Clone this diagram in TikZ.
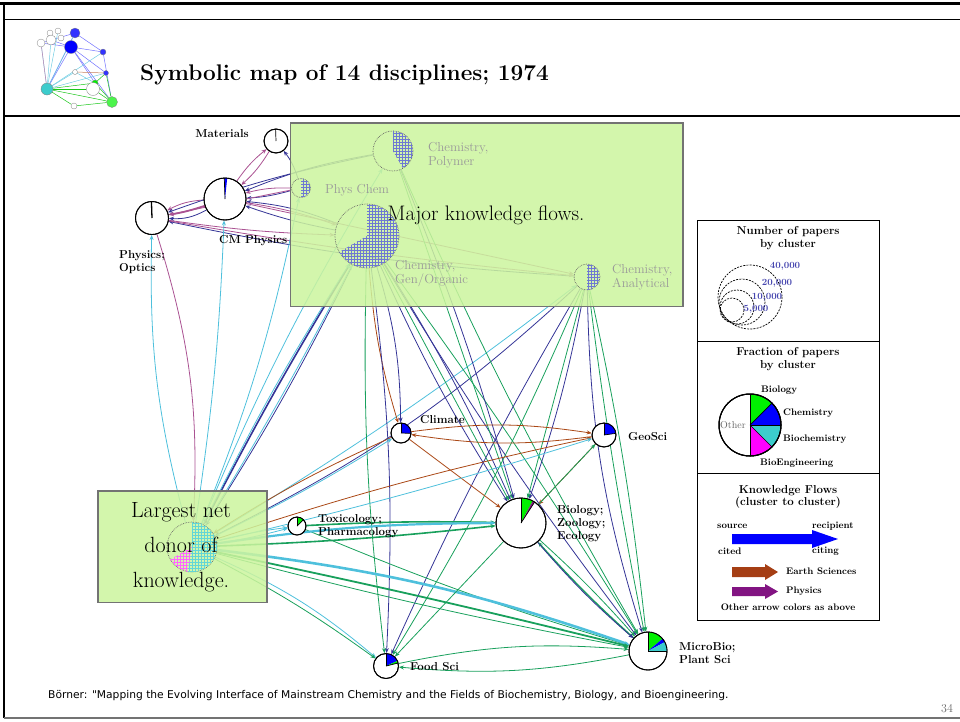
\documentclass[tikz,border=0pt]{standalone}
\usepackage{fontspec}
\newfontfamily\footfont{DejaVu Sans}
\usetikzlibrary{arrows.meta,patterns}

\definecolor{navyE}{RGB}{52,52,150}
\definecolor{cyanE}{RGB}{78,192,220}
\definecolor{greenE}{RGB}{24,160,92}
\definecolor{brownE}{RGB}{170,72,22}
\definecolor{purpE}{RGB}{170,82,146}
\definecolor{boxgreen}{RGB}{204,244,158}
\definecolor{pieblue}{RGB}{0,0,255}
\definecolor{piegreen}{RGB}{0,240,0}
\definecolor{piecyan}{RGB}{60,204,204}
\definecolor{piemag}{RGB}{255,0,255}
\definecolor{numblue}{RGB}{70,70,175}
\definecolor{legbrown}{RGB}{165,62,20}
\definecolor{legpurple}{RGB}{130,20,130}
\definecolor{hatchtone}{RGB}{110,120,210}

\pgfdeclarelayer{edgelayer}
\pgfdeclarelayer{boxlayer}
\pgfdeclarelayer{toplayer}
\pgfsetlayers{edgelayer,main,boxlayer,toplayer}

\tikzset{
  flow/.style={line width=0.8pt,-{Stealth[length=5pt,width=4pt]}},
  nv/.style={flow,draw=navyE},
  cy/.style={flow,draw=cyanE},
  gr/.style={flow,draw=greenE},
  br/.style={flow,draw=brownE},
  pu/.style={flow,draw=purpE},
  disc/.style={circle,draw=black,line width=0.9pt,fill=white,inner sep=0pt},
  ghost/.style={circle,draw=black!60,densely dotted,line width=0.7pt,inner sep=0pt},
  hatchblue/.style={pattern=grid,pattern color=hatchtone},
  hatchcyan/.style={pattern=grid,pattern color=piecyan!80},
  hatchmag/.style={pattern=grid,pattern color=piemag!60},
  nlab/.style={font=\bfseries\fontsize{11.5}{13}\selectfont,align=left,inner sep=0pt},
  glab/.style={font=\fontsize{13}{14}\selectfont,text=black!40,align=left,inner sep=0pt},
  legtitle/.style={font=\bfseries\fontsize{11.5}{12.5}\selectfont,align=center,inner sep=0pt},
  leg/.style={font=\bfseries\fontsize{9.5}{10}\selectfont,inner sep=0pt},
  greenbox/.style={draw=black!55,line width=1.3pt,fill=boxgreen,fill opacity=0.86},
  boxtext/.style={font=\fontsize{21}{35}\selectfont,align=center,inner sep=0pt},
}

% wedge of a pie: centre, radius, start and end angle (measured as seen on the page)
\newcommand\piepart[5]{%
  \fill[#5] (#1) -- ++({-(#3)}:#2) arc[start angle={-(#3)},end angle={-(#4)},radius=#2] -- cycle;}
\newcommand\pierim[2]{\draw[line width=0.9pt] (#1) circle[radius=#2];}
\newcommand\pieray[3]{\draw[line width=0.7pt] (#1) -- ++({-(#3)}:#2);}

\begin{document}
\begin{tikzpicture}[x=1pt,y=-1pt]
\useasboundingbox (0,0) rectangle (960,721);

% slide frame
\draw[line width=2.6pt] (0,3.5) -- (960,3.5);
\draw[line width=1pt] (3.5,19) -- (960,19);
\draw[line width=1.2pt] (3.5,116) -- (960,116);
\draw[line width=2pt] (3.5,2.5) -- (3.5,718);
\draw[line width=1.4pt,black!55] (3.5,718) -- (960,718);

% small overview map
\begin{scope}[every node/.style={circle,draw=black!50,line width=0.3pt,fill=white,inner sep=0pt}]
  \node[minimum size=6pt] (t1) at (50,33) {};
  \node[minimum size=6pt] (t2) at (58,31) {};
  \node[minimum size=8pt] (t3) at (41,43) {};
  \node[minimum size=10pt] (t4) at (51,40) {};
  \node[minimum size=6pt] (t5) at (61,38) {};
  \node[minimum size=10pt,fill=pieblue!80] (t6) at (75,33) {};
  \node[minimum size=13pt,fill=pieblue] (t7) at (71,47) {};
  \node[minimum size=6pt,fill=pieblue!80] (t8) at (103,52) {};
  \node[minimum size=5pt,fill=pieblue!80] (t9) at (106,73) {};
  \node[minimum size=5pt] (t10) at (75,72) {};
  \node[minimum size=12pt,fill=piecyan] (t11) at (47,89) {};
  \node[minimum size=6pt,fill=piegreen] (t12) at (95,83) {};
  \node[minimum size=13pt] (t13) at (93,89) {};
  \node[minimum size=11pt,fill=piegreen!70] (t14) at (112,102) {};
  \node[minimum size=6pt] (t15) at (74,106) {};
\end{scope}
\begin{pgfonlayer}{edgelayer}
\begin{scope}[line width=0.5pt]
  \foreach \a/\b in {t7/t8,t7/t9,t7/t11,t6/t8,t6/t3,t7/t14,t7/t3,t6/t11,t7/t12,t8/t14,t4/t7}
    \draw[pieblue!55] (\a) -- (\b);
  \foreach \a/\b in {t11/t14,t11/t13,t11/t12,t12/t14,t13/t14,t15/t14,t11/t15,t9/t14,t12/t9}
    \draw[piegreen!80!black!90] (\a) -- (\b);
  \foreach \a/\b in {t11/t3,t11/t4,t11/t2,t11/t10,t11/t9,t11/t8,t11/t6,t10/t12}
    \draw[cyanE!80] (\a) -- (\b);
  \draw[purpE!70] (t3) -- (t11);
  \draw[brownE!70] (t10) -- (t9);
\end{scope}
\end{pgfonlayer}

% title
\node[anchor=west,inner sep=0pt,font=\bfseries\fontsize{22.6}{25}\selectfont] (title) at (140,75) {Symbolic map of 14 disciplines; 1974};

% discipline clusters
\node[disc,minimum size=24pt] (mat) at (276,141) {};
\node[disc,minimum size=42pt] (cmp) at (225,199) {};
\node[disc,minimum size=33pt] (phy) at (152,218) {};
\node[disc,minimum size=20pt] (cli) at (401,433) {};
\node[disc,minimum size=24pt] (geo) at (604,435) {};
\node[disc,minimum size=50pt] (bio) at (521,523) {};
\node[disc,minimum size=18pt] (tox) at (297,526) {};
\node[disc,minimum size=25pt] (food) at (386,666) {};
\node[disc,minimum size=38pt] (micro) at (648,651) {};

\pieray{mat.center}{12}{92}\pierim{mat.center}{12}
\piepart{cmp.center}{21}{92}{84}{pieblue}\pieray{cmp.center}{21}{92}\pierim{cmp.center}{21}
\draw[line width=1.3pt] (phy.center) -- ++(-92:16.5);\pierim{phy.center}{16.5}
\piepart{cli.center}{10}{90}{-2}{pieblue}\pieray{cli.center}{10}{90}\pieray{cli.center}{10}{-2}\pierim{cli.center}{10}
\piepart{geo.center}{12}{90}{8}{pieblue}\pieray{geo.center}{12}{90}\pieray{geo.center}{12}{8}\pierim{geo.center}{12}
\piepart{bio.center}{25}{90}{62}{piegreen}\piepart{bio.center}{25}{62}{57}{legpurple}\pieray{bio.center}{25}{90}\pieray{bio.center}{25}{57}\pierim{bio.center}{25}
\piepart{tox.center}{9}{90}{45}{piegreen}\pieray{tox.center}{9}{90}\pieray{tox.center}{9}{45}\pierim{tox.center}{9}
\piepart{food.center}{12.5}{90}{24}{pieblue}\piepart{food.center}{12.5}{24}{14}{piegreen}\pieray{food.center}{12.5}{90}\pieray{food.center}{12.5}{14}\pierim{food.center}{12.5}
\piepart{micro.center}{19}{90}{40}{piegreen}\piepart{micro.center}{19}{40}{28}{pieblue}\piepart{micro.center}{19}{28}{0}{piecyan}\pieray{micro.center}{19}{90}\pieray{micro.center}{19}{0}\pierim{micro.center}{19}

% cluster names
\node[nlab,anchor=east] (matL) at (249,134) {Materials};
\node[nlab,anchor=west] (cmpL) at (219,241) {CM Physics};
\node[nlab,anchor=west] (phyL) at (119,262) {Physics;\\Optics};
\node[nlab,anchor=west] (cliL) at (420,420) {Climate};
\node[nlab,anchor=west] (geoL) at (628,437) {GeoSci};
\node[nlab,anchor=west] (bioL) at (557,524) {Biology;\\Zoology;\\Ecology};
\node[nlab,anchor=west] (toxL) at (318,526) {Toxicology;\\Pharmacology};
\node[nlab,anchor=west] (foodL) at (410,667) {Food Sci};
\node[nlab,anchor=west] (microL) at (679,653) {MicroBio;\\Plant Sci};

% clusters seen through the highlight boxes
\begin{pgfonlayer}{toplayer}
  \node[ghost,minimum size=40pt] (pol) at (393,151) {};
  \node[ghost,minimum size=19pt] (pch) at (301,188) {};
  \node[ghost,minimum size=64pt] (gen) at (367,236) {};
  \node[ghost,minimum size=26pt] (ana) at (587,277) {};
  \node[ghost,minimum size=50pt] (don) at (192,547) {};
  \piepart{pol.center}{20}{90}{-60}{hatchblue}
  \piepart{pch.center}{9.5}{90}{-90}{hatchblue}
  \piepart{gen.center}{32}{90}{-150}{hatchblue}
  \piepart{ana.center}{13}{90}{-90}{hatchblue}
  \piepart{don.center}{25}{90}{-100}{hatchcyan}
  \piepart{don.center}{25}{-100}{-150}{hatchmag}
  \node[glab,anchor=west] (polL) at (428,155) {Chemistry,\\Polymer};
  \node[glab,anchor=west] (pchL) at (325,190) {Phys Chem};
  \node[glab,anchor=west] (genL) at (395,274) {Chemistry,\\Gen/Organic};
  \node[glab,anchor=west] (anaL) at (612,277) {Chemistry,\\Analytical};
\end{pgfonlayer}

% knowledge flows
\begin{pgfonlayer}{edgelayer}
  % physics group
  \draw[pu] (cmp) to[bend left=8] (mat);
  \draw[pu] (mat) to[bend left=8] (cmp);
  \draw[nv] (pch) to[bend right=10] (mat);
  \draw[pu,line width=1.8pt] (cmp) to[bend left=4] (phy);
  \draw[pu] (cmp) to[bend right=12] (phy);
  \draw[nv] (cmp) to[bend left=16] (phy);
  \draw[nv] (pol) to[bend right=6] (cmp);
  \draw[nv] (pch) to[bend left=6] (cmp);
  \draw[pu] (pch) to[bend right=8] (cmp);
  \draw[nv] (gen) to[bend left=4] (cmp);
  \draw[nv] (gen) to[bend right=8] (cmp);
  \draw[pu] (cmp) to[bend left=5] (gen);
  \draw[pu] (cmp) to (ana);
  \draw[nv] (ana) to[bend left=4] (phy);
  \draw[nv] (pol) to[bend right=4] (phy);
  \draw[pu] (phy) to[bend right=3] (gen);
  \draw[pu] (phy) to[bend right=2] (ana);
  \draw[pu] (pch) to (phy);
  % from and to the largest donor, upwards
  \draw[pu] (phy) to[bend left=10] (don);
  \draw[cy] (don) to[bend left=8] (phy);
  \draw[cy] (don) to[bend right=3] (cmp);
  \draw[cy] (don) to[bend right=5] (pch);
  \draw[nv,line width=1.6pt] (gen) to[bend right=2] (don);
  \draw[nv] (gen) to[bend left=3] (don);
  \draw[cy] (don) to[bend right=2] (gen);
  \draw[cy] (don) to[bend left=3] (gen);
  \draw[nv] (ana) to[bend left=8] (don);
  \draw[cy] (don) to[bend left=4] (pol);
  \draw[cy] (don) to[bend right=3] (ana);
  % chemistry downwards
  \draw[nv] (gen) to[bend left=8] (cli);
  \draw[br] (gen) to[bend right=6] (cli);
  \draw[nv] (gen) to[bend left=5] (food);
  \draw[gr] (gen) to[bend right=4] (food);
  \draw[nv] (gen) to[bend right=4] (bio);
  \draw[nv] (gen) to[bend left=4] (bio);
  \draw[gr] (gen) to (bio);
  \draw[nv] (gen) to[bend right=3] (micro);
  \draw[gr] (gen) to[bend left=2] (micro);
  \draw[gr] (pol) to (bio);
  \draw[gr] (pol) to[bend right=3] (micro);
  \draw[nv] (pol) to[bend left=3] (bio);
  \draw[nv] (ana) to[bend left=4] (bio);
  \draw[gr] (ana) to (bio);
  \draw[nv] (ana) to[bend right=8] (micro);
  \draw[gr] (ana) to[bend left=3] (micro);
  \draw[gr] (ana) to[bend right=2] (micro);
  \draw[nv] (ana) to[bend right=3] (food);
  \draw[gr] (ana) to[bend left=4] (food);
  % middle and lower clusters
  \draw[br] (geo) to[bend left=8] (cli);
  \draw[br] (cli) to[bend left=8] (geo);
  \draw[br] (cli) to (bio);
  \draw[br] (geo) to (bio);
  \draw[br] (don) to[bend left=3] (geo);
  \draw[br] (cli) to[bend right=4] (don);
  \draw[cy] (don) to[bend right=3] (cli);
  \draw[cy] (don) to[bend right=2] (geo);
  \draw[gr] (bio) to (geo);
  \draw[gr,line width=1.6pt] (tox) to[bend left=2] (bio);
  \draw[gr] (tox) to[bend right=3] (micro);
  \draw[cy] (don) to[bend left=3] (tox);
  \draw[cy] (don) to[bend right=3] (tox);
  \draw[cy,line width=2.2pt] (don) to[bend left=4] (bio);
  \draw[gr,line width=1.6pt] (don) to[bend right=2] (bio);
  \draw[cy,line width=2.6pt] (don) to[bend left=6] (micro);
  \draw[gr,line width=1.8pt] (don) to[bend left=1] (micro);
  \draw[gr] (don) to[bend right=2] (micro);
  \draw[cy] (don) to[bend left=8] (food);
  \draw[gr] (don) to[bend left=4] (food);
  \draw[gr] (bio) to[bend left=3] (micro);
  \draw[gr,line width=1.4pt] (micro) to[bend left=3] (bio);
  \draw[nv] (bio) to[bend right=4] (micro);
  \draw[gr] (bio) to (food);
  \draw[gr] (micro) to[bend left=8] (food);
  \draw[gr] (food) to[bend left=8] (micro);
\end{pgfonlayer}

% highlight boxes
\begin{pgfonlayer}{boxlayer}
  \draw[greenbox] (290.5,123) rectangle (683,306.5);
  \draw[greenbox] (98,491) rectangle (267,602.5);
\end{pgfonlayer}
\begin{pgfonlayer}{toplayer}
  \node[boxtext] (majorT) at (486,215) {Major knowledge flows.};
  \node[boxtext,font=\fontsize{22}{35}\selectfont] (donorT) at (181,547) {Largest net\\donor of\\knowledge.};
\end{pgfonlayer}

% legend panels
\draw[line width=1pt] (697,220) rectangle (879,620);
\draw[line width=1pt] (697,341) -- (879,341);
\draw[line width=1pt] (697,473) -- (879,473);

\node[legtitle] (numT) at (788,238) {Number of papers\\by cluster};
\begin{scope}[dashed,line width=0.7pt,dash pattern=on 2pt off 1.2pt]
  \draw (750,297) circle[radius=32];
  \draw (742,302) circle[radius=23];
  \draw (737,307) circle[radius=17];
  \draw (732,310) circle[radius=12];
\end{scope}
\begin{scope}[every node/.style={inner sep=0pt,text=numblue,font=\bfseries\fontsize{9.5}{10}\selectfont}]
  \node (n40) at (785,266) {40,000};
  \node (n20) at (777,283) {20,000};
  \node (n10) at (767,297) {10,000};
  \node (n5) at (756,309) {5,000};
\end{scope}

\node[legtitle] (fracT) at (788,359) {Fraction of papers\\by cluster};
\coordinate (lp) at (750,425);
\fill[white] (lp) circle[radius=31];
\piepart{lp}{31}{90}{45}{piegreen}
\piepart{lp}{31}{45}{0}{pieblue}
\piepart{lp}{31}{0}{-45}{piecyan}
\piepart{lp}{31}{-45}{-90}{piemag}
\draw[line width=0.8pt] (lp) ++(-90:31) -- ++(90:62);
\foreach \ang in {45,0,-45} \pieray{lp}{31}{\ang}
\draw[line width=1pt] (lp) circle[radius=31];
\node[inner sep=0pt,text=black!60,font=\fontsize{10}{10}\selectfont] (othL) at (733,425) {Other};
\node[leg,anchor=west] (bioK) at (761,390) {Biology};
\node[leg,anchor=west] (chemK) at (783,413) {Chemistry};
\node[leg,anchor=west] (bchK) at (783,439) {Biochemistry};
\node[leg,anchor=west] (beK) at (760,463) {BioEngineering};

\node[legtitle] (flowT) at (788,497) {Knowledge Flows\\(cluster to cluster)};
\node[leg,anchor=west] (srcK) at (717,526) {source};
\node[leg,anchor=west] (recK) at (812,526) {recipient};
\node[leg,anchor=west] (citedK) at (718,551) {cited};
\node[leg,anchor=west] (citingK) at (812,551) {citing};
\fill[pieblue] (732,534) -- (812,534) -- (812,530) -- (838,539) -- (812,548) -- (812,544) -- (732,544) -- cycle;
\fill[legbrown] (732,567) -- (765,567) -- (765,564) -- (778,572) -- (765,580) -- (765,577) -- (732,577) -- cycle;
\fill[legpurple] (732,587) -- (765,587) -- (765,584) -- (778,591.5) -- (765,599) -- (765,596) -- (732,596) -- cycle;
\node[leg,anchor=west] (earthK) at (786,571) {Earth Sciences};
\node[leg,anchor=west] (physK) at (786,591) {Physics};
\node[leg] (otherK) at (788,607) {Other arrow colors as above};

% footer
\node[anchor=west,inner sep=0pt,font=\footfont\fontsize{10.7}{12}\selectfont] (foot) at (48,696) {Börner: "Mapping the Evolving Interface of Mainstream Chemistry and the Fields of Biochemistry, Biology, and Bioengineering.};
\node[inner sep=0pt,text=black!60,font=\fontsize{12}{12}\selectfont] (pageno) at (947,709) {34};
\end{tikzpicture}
\end{document}
